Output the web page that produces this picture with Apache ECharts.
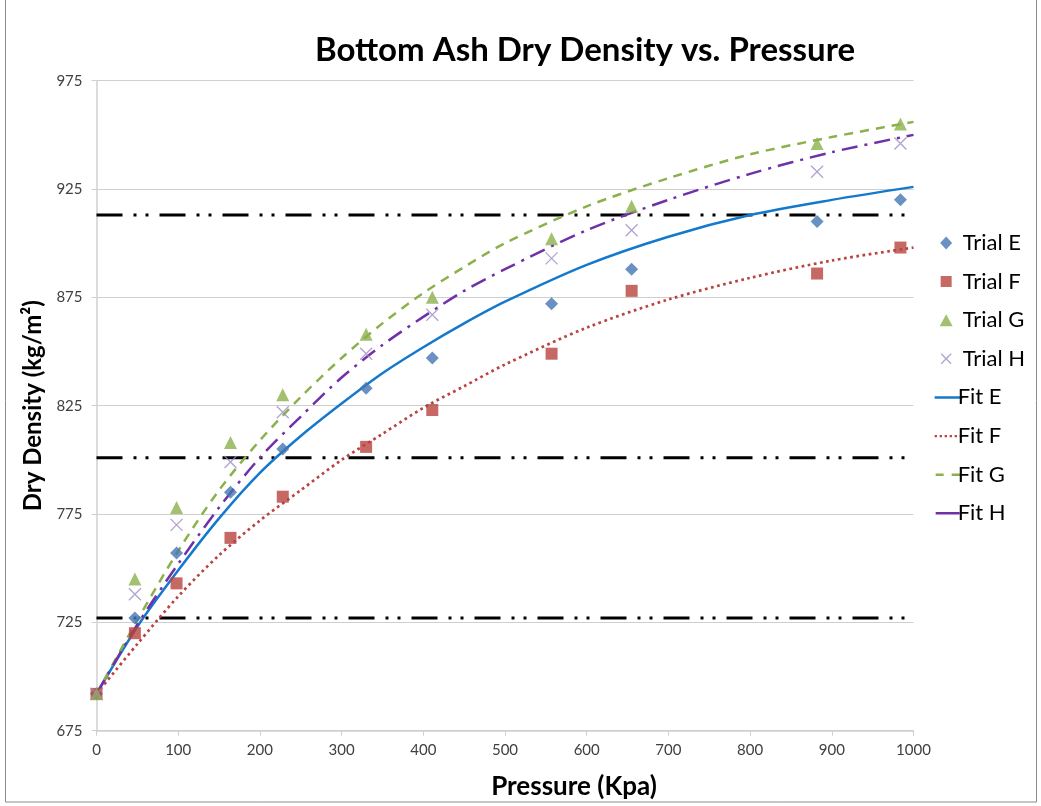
<!DOCTYPE html>
<html>
<head>
<meta charset="utf-8">
<script src="https://cdn.jsdelivr.net/npm/echarts@6/dist/echarts.min.js"></script>
<style>html,body{margin:0;padding:0;background:#fff}#c{width:1041px;height:806px}</style>
</head>
<body>
<div id="c"></div>
<script>
// ---- data ----
const trialX = [0, 47, 98, 164, 228, 330, 411, 557, 655, 882, 984];
const trialE = [692, 727, 757, 785, 805, 833, 847, 872, 888, 910, 920];
const trialF = [692, 720, 743, 764, 783, 806, 823, 849, 878, 886, 898];
const trialG = [692, 745, 778, 808, 830, 858, 875, 902, 917, 946, 955];
const trialH = [692, 738, 770, 799, 822, 849, 867, 893, 906, 933, 946];

// fitted curves at these pressures
const fitX  = [0, 50, 100, 150, 200, 250, 300, 350, 400, 450, 500, 600, 700, 800, 900, 1000];
const fitE  = [692, 723, 749, 773, 794, 811, 826, 840, 852, 863, 873, 890, 903, 913, 920, 926];
const fitF  = [692, 715, 737, 756, 772, 786, 800, 812, 824, 834, 844, 861, 874, 884, 892, 898];
const fitG  = [692, 726, 758, 786, 809, 829, 847, 863, 877, 889, 900, 917, 930, 941, 949, 956];
const fitH  = [692, 724, 752, 778, 801, 820, 838, 853, 866, 878, 888, 906, 920, 932, 942, 950];

const refLevels = [727, 801, 913];

const xTicks = {min: 0, max: 1000, step: 100};
const yTicks = {min: 675, max: 975, step: 50};

const pairs = (xs, ys) => xs.map((x, i) => [x, ys[i]]);
const FONT = 'Lato';

const C = {E: '#4376B3', F: '#B8433F', G: '#8CB04C', H: '#9C8CC4', fitE: '#1479CC', fitH: '#7030A8'};
const xPath = 'path://M0,0 L10,10 M10,0 L0,10';

// legend icons (30 x 13 box, corner anchors keep the size)
const box = 'M0,0 L0.1,0 M30,13 L29.9,13 ';
const icons = {
  'Trial E': 'path://' + box + 'M12.5,0 L18.5,6.5 L12.5,13 L6.5,6.5 Z',
  'Trial F': 'path://' + box + 'M7,1 H18 V12 H7 Z',
  'Trial G': 'path://' + box + 'M12.5,0.5 L19,12.5 L6,12.5 Z',
  'Trial H': 'path://' + box + 'M7.5,1.5 L17.5,11.5 M17.5,1.5 L7.5,11.5',
  'Fit E': 'path://' + box + 'M1,5.3 H29 V7.8 H1 Z',
  'Fit F': 'path://' + box + 'M1,5.5 h2.3 v2.3 h-2.3 Z M6,5.5 h2.3 v2.3 h-2.3 Z M11,5.5 h2.3 v2.3 h-2.3 Z M16,5.5 h2.3 v2.3 h-2.3 Z M21,5.5 h2.3 v2.3 h-2.3 Z M26,5.5 h2.3 v2.3 h-2.3 Z',
  'Fit G': 'path://' + box + 'M2,5.3 H10 V7.8 H2 Z M18,5.3 H28 V7.8 H18 Z',
  'Fit H': 'path://' + box + 'M2,5.3 H26 V7.8 H2 Z'
};
const legendNames = ['Trial E', 'Trial F', 'Trial G', 'Trial H', 'Fit E', 'Fit F', 'Fit G', 'Fit H'];

const series = [
  {name: 'Trial E', type: 'scatter', data: pairs(trialX, trialE), symbol: 'diamond', symbolSize: 13,
   itemStyle: {color: C.E}, z: 5},
  {name: 'Trial F', type: 'scatter', data: pairs(trialX, trialF), symbol: 'rect', symbolSize: 12,
   itemStyle: {color: C.F}, z: 5},
  {name: 'Trial G', type: 'scatter', data: pairs(trialX, trialG), symbol: 'triangle', symbolSize: 13,
   itemStyle: {color: C.G}, z: 5},
  {name: 'Trial H', type: 'scatter', data: pairs(trialX, trialH), symbol: xPath, symbolSize: 12,
   itemStyle: {color: 'rgba(0,0,0,0)', borderColor: C.H, borderWidth: 1.3}, z: 5},
  {name: 'Fit E', type: 'line', data: pairs(fitX, fitE), smooth: 0.3, showSymbol: false, symbol: 'none',
   lineStyle: {color: C.fitE, width: 2.5, type: 'solid'}, itemStyle: {color: C.fitE}, z: 3},
  {name: 'Fit F', type: 'line', data: pairs(fitX, fitF), smooth: 0.3, showSymbol: false, symbol: 'none',
   lineStyle: {color: C.F, width: 2.7, type: [2.7, 3.5]}, itemStyle: {color: C.F}, z: 3},
  {name: 'Fit G', type: 'line', data: pairs(fitX, fitG), smooth: 0.3, showSymbol: false, symbol: 'none',
   lineStyle: {color: C.G, width: 2.5, type: [9, 7]}, itemStyle: {color: C.G}, z: 3},
  {name: 'Fit H', type: 'line', data: pairs(fitX, fitH), smooth: 0.3, showSymbol: false, symbol: 'none',
   lineStyle: {color: C.fitH, width: 2.5, type: [16, 7, 3, 7]}, itemStyle: {color: C.fitH}, z: 3}
];

refLevels.forEach((v, i) => {
  series.push({name: 'ref' + i, type: 'line', data: [[xTicks.min, v], [xTicks.max, v]], showSymbol: false, symbol: 'none',
    lineStyle: {color: '#000', width: 3, type: [26, 11, 3, 9, 3, 11]}, silent: true, z: 2});
});

const chart = echarts.init(document.getElementById('c'), null, {renderer: 'canvas'});
chart.setOption({
  animation: false,
  backgroundColor: '#fff',
  textStyle: {fontFamily: FONT},
  title: {text: 'Bottom Ash Dry Density vs. Pressure', left: 580, top: 29, textAlign: 'center',
    textStyle: {fontFamily: FONT, fontWeight: 'bold', fontSize: 33, color: '#000'}},
  grid: {left: 96.5, right: 127.5, top: 80.7, bottom: 75.3, containLabel: false},
  legend: {
    data: legendNames.map(n => ({
      name: n, icon: icons[n],
      itemStyle: n === 'Trial H' ? {color: 'rgba(0,0,0,0)', borderColor: C.H, borderWidth: 1.3} : undefined,
      textStyle: {padding: n.startsWith('Fit') ? [0, 0, 0, -11] : [0, 0, 0, -6]}
    })),
    orient: 'vertical', left: 928, top: 227, itemWidth: 30, itemHeight: 13, itemGap: 16.6,
    textStyle: {fontFamily: FONT, fontSize: 22, color: '#000'}
  },
  xAxis: {
    type: 'value', min: xTicks.min, max: xTicks.max, interval: xTicks.step,
    name: '',
    axisLine: {show: true, onZero: false, lineStyle: {color: '#D0D0D0', width: 1.5}},
    axisTick: {show: true, length: 5, lineStyle: {color: '#D0D0D0'}},
    axisLabel: {fontFamily: FONT, fontSize: 15, color: '#404040', margin: 12, formatter: v => String(v)},
    splitLine: {show: false}
  },
  yAxis: {
    type: 'value', min: yTicks.min, max: yTicks.max, interval: yTicks.step,
    name: 'Dry Density (kg/m²)', nameLocation: 'middle', nameGap: 46, nameRotate: 90,
    nameTextStyle: {fontFamily: FONT, fontWeight: 'bold', fontSize: 24, color: '#000'},
    axisLine: {show: true, lineStyle: {color: '#D0D0D0', width: 1.5}},
    axisTick: {show: true, length: 5, lineStyle: {color: '#D0D0D0'}},
    axisLabel: {fontFamily: FONT, fontSize: 15, color: '#404040', margin: 14, formatter: v => String(v)},
    splitLine: {show: true, lineStyle: {color: '#CFCFCF', width: 1}}
  },
  graphic: [
    {type: 'rect', shape: {x: 5.5, y: -1, width: 1031, height: 803}, style: {fill: 'none', stroke: '#8C8C8C', lineWidth: 1}, silent: true},
    {type: 'text', x: 574, y: 787, style: {text: 'Pressure (Kpa)', fontFamily: FONT, fontWeight: 'bold', fontSize: 26, fill: '#000', align: 'center', verticalAlign: 'middle'}}
  ],
  series: series
});
</script>
</body>
</html>
